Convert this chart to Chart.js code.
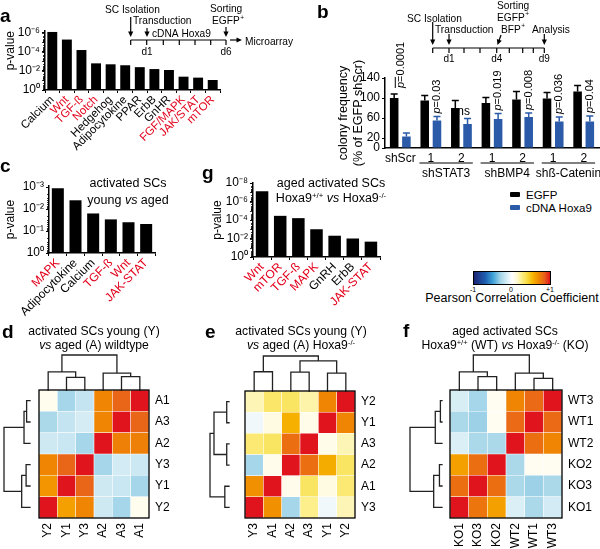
<!DOCTYPE html>
<html>
<head>
<meta charset="utf-8">
<script src="https://cdn.jsdelivr.net/npm/chart.js@4.4.1/dist/chart.umd.min.js"></script>
<style>
  body { margin: 0; width: 600px; height: 549px; position: relative; overflow: hidden; background: #fff;
         font-family: "Liberation Sans", Arial, sans-serif; color: #000 }
  canvas, .t { position: absolute }
  .t { white-space: nowrap; line-height: 1 }
  .lt { font-weight: bold; font-size: 19px }
  .ttl { font-size: 12.2px; line-height: 13.5px; text-align: center; width: 200px; top: 325px }
  .s { font-size: 0.62em; position: relative; top: -0.5em }
  .sq { display: inline-block; width: 10px; height: 5px; border-radius: 1px; margin-right: 6px; vertical-align: 2px }
</style>
</head>
<body>
<canvas id="chartA" width="300" height="160" style="left:0;top:0"></canvas>
<canvas id="chartB" width="300" height="180" style="left:300px;top:0"></canvas>
<canvas id="chartC" width="200" height="170" style="left:0;top:170px"></canvas>
<canvas id="chartG" width="200" height="170" style="left:200px;top:170px"></canvas>
<canvas id="chartD" width="200" height="199" style="left:0;top:350px"></canvas>
<canvas id="chartE" width="200" height="199" style="left:200px;top:350px"></canvas>
<canvas id="chartF" width="200" height="199" style="left:400px;top:350px"></canvas>

<div class="t lt" style="left:0;top:6px">a</div>
<div class="t lt" style="left:317px;top:2px">b</div>
<div class="t lt" style="left:0;top:156px">c</div>
<div class="t lt" style="left:202px;top:163px">g</div>
<div class="t lt" style="left:2px;top:322px">d</div>
<div class="t lt" style="left:205px;top:322px">e</div>
<div class="t lt" style="left:403px;top:321px">f</div>

<div class="t" style="left:48px;top:175px;width:160px;text-align:center;font-size:12.5px;line-height:16.5px">activated SCs<br>young <i>vs</i> aged</div>
<div class="t" style="left:231px;top:176px;width:200px;text-align:center;font-size:12.5px;line-height:15px">aged activated SCs<br>Hoxa9<span class="s">+/+</span> <i>vs</i> Hoxa9<span class="s">-/-</span></div>

<div class="t ttl" style="left:-6px">activated SCs young (Y)<br><i>vs</i> aged (A) wildtype</div>
<div class="t ttl" style="left:201px">activated SCs young (Y)<br><i>vs</i> aged (A) Hoxa9<span class="s">-/-</span></div>
<div class="t ttl" style="left:405px">aged activated SCs<br>Hoxa9<span class="s">+/+</span> (WT) <i>vs</i> Hoxa9<span class="s">-/-</span> (KO)</div>

<div id="legendB" class="t" style="left:510px;top:189px;font-size:11.5px;line-height:13px"></div>

<div id="cbar" class="t" style="left:473px;top:271px;width:76px;height:12px;border:1px solid #000"></div>
<div class="t" style="left:468px;top:286px;width:10px;text-align:center;font-size:7px">-1</div>
<div class="t" style="left:506px;top:286px;width:10px;text-align:center;font-size:7px">0</div>
<div class="t" style="left:545px;top:286px;width:10px;text-align:center;font-size:7px">+1</div>
<div class="t" style="left:412px;top:292px;width:200px;text-align:center;font-size:12.5px">Pearson Correlation Coefficient</div>

<script>
// ---------- data ----------
// a: pathways after Hoxa9 overexpression, bar = -log10(p)
const aPathways = ['Calcium', 'Wnt', 'TGF-ß', 'Notch', 'Hedgehog', 'Adipocytokine', 'PPAR', 'ErbB', 'GnHR', 'FGF/MAPK', 'JAK/STAT', 'mTOR']
const aLogP = [6.1, 5.3, 4.2, 2.8, 2.7, 2.6, 2.4, 2.2, 2.1, 1.4, 1.3, 1.05]
const aRed = ['Wnt', 'TGF-ß', 'Notch', 'FGF/MAPK', 'JAK/STAT', 'mTOR']
const aTicks = [0, 2, 4, 6]

// c: young vs aged activated SCs
const cPathways = ['MAPK', 'Adipocytokine', 'Calcium', 'TGF-ß', 'Wnt', 'JAK-STAT']
const cLogP = [2.95, 2.4, 1.8, 1.53, 1.4, 1.32]
const cRed = ['MAPK', 'TGF-ß', 'Wnt', 'JAK-STAT']
const cTicks = [0, 1, 2, 3]

// g: aged Hoxa9+/+ vs Hoxa9-/-
const gPathways = ['Wnt', 'mTOR', 'TGF-ß', 'MAPK', 'GnRH', 'ErbB', 'JAK-STAT']
const gLogP = [7.1, 4.45, 4.2, 3.0, 2.3, 2.0, 1.66]
const gRed = ['Wnt', 'mTOR', 'TGF-ß', 'MAPK', 'JAK-STAT']
const gTicks = [0, 2, 4, 6, 8]

// b: colony frequency (% of EGFP shScr)
const bGroups = ['shScr', '1', '2', '1', '2', '1', '2']
const bEGFP = [100, 95, 80, 90, 97, 99, 113]
const bEGFPErr = [8, 10, 15, 11, 16, 12, 12]
const bHoxa = [23, 55, 48, 58, 62, 53, 53]
const bHoxaErr = [7, 8, 11, 11, 8, 9, 11]
const bPvals = ['p=0.0001', 'p=0.03', 'ns', 'p=0.019', 'p=0.008', 'p=0.036', 'p=0.04']
const bShGroups = [['shSTAT3', 1, 2], ['shBMP4', 3, 4], ['shß-Catenin', 5, 6]]
const bTicks = [0, 20, 60, 100, 140]

// d: young vs aged wildtype, Pearson r (rows top to bottom)
const dCols = ['Y2', 'Y1', 'Y3', 'A2', 'A3', 'A1']
const dRows = ['A1', 'A3', 'A2', 'Y3', 'Y1', 'Y2']
const dCorr = [
  [0.06, -0.3, -0.2, 0.72, 0.84, 1],
  [-0.28, -0.2, -0.14, 0.72, 1, 0.84],
  [-0.16, -0.18, -0.3, 1, 0.74, 0.74],
  [0.72, 0.84, 1, -0.3, -0.15, -0.17],
  [0.66, 1, 0.84, -0.16, -0.18, -0.3],
  [1, 0.62, 0.72, -0.16, -0.3, 0.06]
]
const dColTree = [[1, 2, 0.36], [0, 6, 0.52], [4, 5, 0.38], [3, 8, 0.48], [7, 9, 1]]
const dRowTree = [[0, 1, 0.13], [2, 6, 0.23], [3, 4, 0.15], [5, 8, 0.32], [7, 9, 1]]

// e: young vs aged Hoxa9-/-
const eCols = ['Y3', 'A1', 'A2', 'A3', 'Y1', 'Y2']
const eRows = ['Y2', 'Y1', 'A3', 'A2', 'A1', 'Y3']
const eCorr = [
  [0.18, 0.32, 0.33, 0.2, 0.72, 1],
  [-0.05, 0.1, 0.56, 0.08, 1, 0.72],
  [0.3, 0.33, 0.8, 1, 0.08, 0.18],
  [-0.3, 0.07, 1, 0.8, 0.58, 0.33],
  [0.68, 1, 0.07, 0.33, 0.1, 0.3],
  [1, 0.68, -0.3, 0.25, -0.05, 0.18]
]
const eColTree = [[0, 1, 0.55], [2, 3, 0.54], [4, 5, 0.51], [7, 8, 0.86], [6, 9, 1]]
const eRowTree = [[0, 1, 0.12], [2, 3, 0.12], [6, 7, 0.79], [4, 5, 0.22], [8, 9, 1]]

// f: aged Hoxa9+/+ (WT) vs Hoxa9-/- (KO)
const fCols = ['KO1', 'KO3', 'KO2', 'WT2', 'WT1', 'WT3']
const fRows = ['WT3', 'WT1', 'WT2', 'KO2', 'KO3', 'KO1']
const fCorr = [
  [-0.13, -0.3, 0.05, 0.72, 0.82, 1],
  [-0.28, -0.32, 0.05, 0.82, 1, 0.82],
  [-0.12, -0.28, -0.28, 1, 0.8, 0.72],
  [0.62, 0.8, 1, -0.28, 0.05, 0.05],
  [0.8, 1, 0.8, -0.28, -0.32, -0.28],
  [1, 0.78, 0.62, -0.12, -0.28, -0.15]
]
const fColTree = [[1, 2, 0.38], [0, 6, 0.52], [4, 5, 0.33], [3, 8, 0.48], [7, 9, 1]]
const fRowTree = [[0, 1, 0.05], [2, 6, 0.21], [3, 4, 0.08], [5, 8, 0.26], [7, 9, 1]]

// ---------- style ----------
const FONT = '"Liberation Sans", Arial, sans-serif'
const RED = '#e3001b'
const BLUE = '#2a5aa8'
const cmapStops = [[-1, '#1c2472'], [-0.7, '#1f5fb0'], [-0.5, '#3fa2d8'], [-0.3, '#a6d6e9'], [-0.12, '#dbeff6'], [0, '#ffffff'],
  [0.1, '#fffbe3'], [0.25, '#fcef8c'], [0.4, '#f9dc40'], [0.55, '#f6b400'], [0.7, '#f08a00'], [0.85, '#e8621a'], [1, '#e0141c']]

Chart.defaults.font.family = FONT
Chart.defaults.color = '#000'
Chart.defaults.animation = false
Chart.defaults.responsive = false
Chart.defaults.plugins.legend.display = false
Chart.defaults.plugins.tooltip.enabled = false

const hex = h => [1, 3, 5].map(i => parseInt(h.slice(i, i + 2), 16))
function corrColor(v) {
  for (let i = 1; i < cmapStops.length; i++) {
    const [v0, c0] = cmapStops[i - 1], [v1, c1] = cmapStops[i]
    if (v <= v1) {
      const t = (v - v0) / (v1 - v0), a = hex(c0), b = hex(c1)
      return 'rgb(' + a.map((x, k) => Math.round(x + (b[k] - x) * t)).join(',') + ')'
    }
  }
  return cmapStops[cmapStops.length - 1][1]
}

const SUP = { '0': '⁰', '1': '¹', '2': '²', '3': '³', '4': '⁴', '5': '⁵', '6': '⁶', '7': '⁷', '8': '⁸', '9': '⁹', '-': '⁻' }
const pLabel = v => '10' + String(v === 0 ? 0 : -v).split('').map(c => SUP[c]).join('')

// minor ticks of the (reversed) log p axis
const logMinorTicks = {
  id: 'logMinorTicks',
  afterDraw(chart) {
    const { ctx, chartArea, scales: { y } } = chart
    const x0 = chartArea.left
    ctx.save()
    ctx.strokeStyle = '#000'
    ctx.lineWidth = 0.8
    ctx.beginPath()
    for (let d = 0; d < Math.floor(y.max); d++) {
      for (let k = 1; k <= 9; k++) {
        const py = Math.round(y.getPixelForValue(d + 1 - Math.log10(k))) + 0.5
        const len = k === 1 ? 3 : 2
        ctx.moveTo(x0 - len, py)
        ctx.lineTo(x0, py)
      }
    }
    ctx.stroke()
    ctx.restore()
  }
}

function pathwayChart(id, labels, logP, red, ticks, top, geo) {
  return new Chart(document.getElementById(id), {
    type: 'bar',
    data: { labels, datasets: [{ data: logP, backgroundColor: '#000', barPercentage: geo.bar, categoryPercentage: 1 }] },
    options: {
      layout: { padding: { left: geo.padL, top: geo.padT, right: geo.padR, bottom: 0 } },
      scales: {
        x: {
          grid: { offset: true, drawOnChartArea: false, tickLength: 3, color: '#000', lineWidth: 1 },
          border: { color: '#000', width: 1.5 },
          ticks: {
            minRotation: 45, maxRotation: 45, autoSkip: false, padding: 0, font: { size: geo.labelSize },
            color: c => red.includes(labels[c.index]) ? RED : '#000'
          },
          afterFit: s => { s.height = geo.xh }
        },
        y: {
          min: 0, max: top,
          grid: { drawOnChartArea: false, tickLength: 3, color: '#000' },
          border: { color: '#000', width: 1.5 },
          ticks: { font: { size: 12 }, padding: 2, callback: v => pLabel(v) },
          afterBuildTicks: s => { s.ticks = ticks.map(value => ({ value })) },
          afterFit: s => { s.width = geo.yw },
          title: { display: true, text: 'p-value', font: { size: 12 }, padding: 0, align: geo.titleAlign }
        }
      }
    },
    plugins: [logMinorTicks].concat(geo.extra || [])
  })
}

// ---------- timelines (annotations) ----------
function arrow(ctx, x1, y1, x2, y2) {
  const a = Math.atan2(y2 - y1, x2 - x1)
  ctx.beginPath()
  ctx.moveTo(x1, y1)
  ctx.lineTo(x2 - 4 * Math.cos(a), y2 - 4 * Math.sin(a))
  ctx.stroke()
  ctx.beginPath()
  ctx.moveTo(x2, y2)
  ctx.lineTo(x2 - 5.5 * Math.cos(a) + 2.6 * Math.sin(a), y2 - 5.5 * Math.sin(a) - 2.6 * Math.cos(a))
  ctx.lineTo(x2 - 5.5 * Math.cos(a) - 2.6 * Math.sin(a), y2 - 5.5 * Math.sin(a) + 2.6 * Math.cos(a))
  ctx.closePath()
  ctx.fill()
}
function drawTimeline(ctx, spec) {
  ctx.save()
  ctx.fillStyle = '#000'
  ctx.strokeStyle = '#000'
  ctx.lineWidth = 1.2
  ctx.textBaseline = 'alphabetic'
  spec.texts.forEach(([s, x, y, sup]) => {
    ctx.font = `10.2px ${FONT}`
    ctx.textAlign = 'left'
    ctx.fillText(s, x, y)
    if (sup) {
      const w = ctx.measureText(s).width
      ctx.font = `6.5px ${FONT}`
      ctx.fillText(sup, x + w + 0.5, y - 4.5)
    }
  })
  spec.arrows.forEach(a => arrow(ctx, ...a))
  const [lx1, lx2, ly] = spec.line
  ctx.beginPath()
  ctx.moveTo(lx1, ly)
  ctx.lineTo(lx2, ly)
  spec.ticks.forEach(x => { ctx.moveTo(x, ly); ctx.lineTo(x, ly + 5) })
  ctx.stroke()
  ctx.font = `10px ${FONT}`
  ctx.textAlign = 'center'
  spec.days.forEach(([s, x]) => ctx.fillText(s, x, spec.dayY))
  ctx.restore()
}

const timelineA = {
  id: 'timelineA',
  afterDraw(chart) {
    drawTimeline(chart.ctx, {
      texts: [['SC Isolation', 105, 12.5], ['Transduction', 133, 24], ['cDNA Hoxa9', 152, 36.5], ['Sorting', 210, 11.5], ['EGFP', 212, 24, '+'], ['Microarray', 245, 44.5]],
      arrows: [[130.7, 17, 130.7, 37], [147, 28, 147, 37], [226, 27, 226, 37], [230, 40, 242, 40]],
      line: [130.7, 226, 40],
      ticks: [130.7, 146.7, 163.3, 179.3, 195, 210.7, 226],
      days: [['d1', 147], ['d6', 226]],
      dayY: 55
    })
  }
}

const timelineB = {
  id: 'timelineB',
  afterDraw(chart) {
    drawTimeline(chart.ctx, {
      texts: [['SC Isolation', 107, 21.5], ['Transduction', 135, 32.5], ['Sorting', 197, 9], ['EGFP', 197, 20.5, '+'], ['BFP', 201, 32.5, '+'], ['Analysis', 232, 32.5]],
      arrows: [[132.7, 22, 132.7, 45], [149, 34, 149, 45], [201, 35, 197.5, 45], [244.3, 34, 244.3, 45]],
      line: [132.7, 244.3, 48],
      ticks: [132.7, 149, 164, 180, 196.7, 209.3, 222.7, 233.3, 244.3],
      days: [['d1', 149], ['d4', 196.7], ['d9', 244.3]],
      dayY: 62
    })
  }
}

// ---------- panel a, c, g ----------
pathwayChart('chartA', aPathways, aLogP, aRed, aTicks, 6.2,
  { bar: 0.68, padL: 3, padT: 31, padR: 80, yw: 42, xh: 70, labelSize: 11.5, titleAlign: 'end', extra: [timelineA] })
pathwayChart('chartC', cPathways, cLogP, cRed, cTicks, 3.05,
  { bar: 0.68, padL: 3, padT: 16, padR: 45, yw: 46, xh: 87, labelSize: 12, titleAlign: 'center' })
pathwayChart('chartG', gPathways, gLogP, gRed, gTicks, 8,
  { bar: 0.69, padL: 10, padT: 13, padR: 20, yw: 43, xh: 83, labelSize: 12, titleAlign: 'center' })

// ---------- panel b ----------
function vText(ctx, x, y, s) {
  ctx.save()
  ctx.translate(x, y)
  ctx.rotate(-Math.PI / 2)
  ctx.textAlign = 'left'
  ctx.textBaseline = 'middle'
  ctx.font = `italic 11px ${FONT}`
  ctx.fillText(s[0], 0, 0)
  const w = ctx.measureText(s[0]).width
  ctx.font = `11px ${FONT}`
  ctx.fillText(s.slice(1), w, 0)
  ctx.restore()
}

const bAnnot = {
  id: 'bAnnot',
  afterDatasetsDraw(chart) {
    const { ctx, scales: { y } } = chart
    const egfp = chart.getDatasetMeta(0).data, hoxa = chart.getDatasetMeta(1).data
    const sets = [[egfp, bEGFP, bEGFPErr, '#000'], [hoxa, bHoxa, bHoxaErr, BLUE]]
    ctx.save()
    ctx.lineWidth = 1.5
    sets.forEach(([bars, v, e, col]) => {
      ctx.strokeStyle = col
      ctx.beginPath()
      bars.forEach((b, i) => {
        const t = y.getPixelForValue(v[i] + e[i])
        ctx.moveTo(b.x, b.y)
        ctx.lineTo(b.x, t)
        ctx.moveTo(b.x - 3.5, t)
        ctx.lineTo(b.x + 3.5, t)
      })
      ctx.stroke()
    })
    ctx.restore()
  },
  afterDraw(chart) {
    const { ctx, scales: { y } } = chart
    const egfp = chart.getDatasetMeta(0).data, hoxa = chart.getDatasetMeta(1).data
    ctx.save()
    ctx.fillStyle = '#000'
    ctx.strokeStyle = '#000'
    ctx.lineWidth = 1
    bPvals.forEach((p, i) => {
      const topH = y.getPixelForValue(bHoxa[i] + bHoxaErr[i])
      if (p === 'ns') {
        ctx.font = `12px ${FONT}`
        ctx.textAlign = 'center'
        ctx.textBaseline = 'alphabetic'
        ctx.fillText(p, hoxa[i].x - 4, topH - 4)
      } else if (i === 0) {
        const topE = y.getPixelForValue(bEGFP[i] + bEGFPErr[i])
        const cx = (egfp[i].x + hoxa[i].x) / 2 + 1
        vText(ctx, cx, topE - 6, p)
        ctx.beginPath()
        ctx.moveTo(cx - 6, topE - 6)
        ctx.lineTo(cx - 6, topE - 17)
        ctx.stroke()
      } else {
        vText(ctx, hoxa[i].x, topH - 3, p)
      }
    })
    // shRNA group underlines and names
    ctx.font = `12px ${FONT}`
    ctx.textAlign = 'center'
    ctx.textBaseline = 'alphabetic'
    bShGroups.forEach(([name, g0, g1]) => {
      const l = egfp[g0].x - egfp[g0].width / 2 - 1, r = hoxa[g1].x + hoxa[g1].width / 2 + 1
      ctx.beginPath()
      ctx.moveTo(l, 163)
      ctx.lineTo(r, 163)
      ctx.stroke()
      ctx.fillText(name, (l + r) / 2, 176.5)
    })
    ctx.restore()
  }
}

const chartB = new Chart(document.getElementById('chartB'), {
  type: 'bar',
  data: {
    labels: bGroups,
    datasets: [
      { label: 'EGFP', data: bEGFP, backgroundColor: '#000', barPercentage: 0.7, categoryPercentage: 0.8 },
      { label: 'cDNA Hoxa9', data: bHoxa, backgroundColor: BLUE, barPercentage: 0.7, categoryPercentage: 0.8 }
    ]
  },
  options: {
    layout: { padding: { left: 36, top: 78, right: 1, bottom: 0 } },
    scales: {
      x: {
        grid: { display: false, drawTicks: false },
        border: { color: '#000', width: 1.5 },
        ticks: { font: { size: 12 }, padding: 3, autoSkip: false, maxRotation: 0 },
        afterFit: s => { s.height = 32 }
      },
      y: {
        min: 0, max: 140,
        grid: { drawOnChartArea: false, tickLength: 3, color: '#000' },
        border: { color: '#000', width: 1.5 },
        ticks: { font: { size: 12 }, padding: 2 },
        afterBuildTicks: s => { s.ticks = bTicks.map(value => ({ value })) },
        afterFit: s => { s.width = 49 },
        title: { display: true, text: ['colony frequency', '(% of EGFP shScr)'], font: { size: 12.5 }, padding: 0 }
      }
    }
  },
  plugins: [bAnnot, timelineB]
})

// legend of panel b from the chart's datasets
document.getElementById('legendB').innerHTML = chartB.data.datasets
  .map(d => `<div><span class="sq" style="background:${d.backgroundColor}"></span>${d.label}</div>`).join('')

// ---------- heatmaps d, e, f ----------
function drawTree(ctx, tree, leafPos, pt) {
  const nodes = []
  for (let i = 0; i <= tree.length; i++) nodes.push({ pos: leafPos(i), h: 0 })
  ctx.beginPath()
  tree.forEach(([a, b, h]) => {
    const A = nodes[a], B = nodes[b]
    const seg = (p0, h0, p1, h1) => {
      const s = pt(p0, h0), e = pt(p1, h1)
      ctx.moveTo(s[0], s[1])
      ctx.lineTo(e[0], e[1])
    }
    seg(A.pos, A.h, A.pos, h)
    seg(B.pos, B.h, B.pos, h)
    seg(A.pos, h, B.pos, h)
    nodes.push({ pos: (A.pos + B.pos) / 2, h })
  })
  ctx.stroke()
}

function dendroPlugin(colTree, rowTree, geo) {
  return {
    id: 'dendro',
    afterDraw(chart) {
      const { ctx, chartArea: a, scales } = chart
      ctx.save()
      ctx.lineCap = 'square'
      ctx.strokeStyle = '#222'
      ctx.lineWidth = 1.3
      drawTree(ctx, colTree, i => scales.x.getPixelForValue(i), (p, h) => [p, a.top - h * geo.topH])
      drawTree(ctx, rowTree, i => scales.rowAxis.getPixelForValue(i), (p, h) => [a.left - geo.gapL - h * geo.leftW, p])
      ctx.strokeStyle = '#000'
      ctx.lineWidth = 1.3
      ctx.strokeRect(a.left, a.top, a.width, a.height)
      ctx.restore()
    }
  }
}

function heatmap(id, cols, rows, corr, colTree, rowTree, geo) {
  const datasets = rows.map((r, i) => ({
    label: r,
    data: cols.map(() => 1),
    backgroundColor: corr[i].map(corrColor),
    borderColor: 'rgba(255,255,255,0.5)',
    borderWidth: 0.6,
    borderSkipped: false,
    barPercentage: 1,
    categoryPercentage: 1
  })).reverse()
  return new Chart(document.getElementById(id), {
    type: 'bar',
    data: { labels: cols, datasets },
    options: {
      layout: { padding: { left: geo.padL, top: geo.padT, right: 0, bottom: 0 } },
      scales: {
        x: {
          stacked: true,
          grid: { display: false, drawTicks: false },
          border: { display: false },
          ticks: { minRotation: 90, maxRotation: 90, autoSkip: false, padding: 5, font: { size: 12 } },
          afterFit: s => { s.height = 31 }
        },
        y: { stacked: true, min: 0, max: rows.length, display: false },
        rowAxis: {
          type: 'category', labels: rows, position: 'right', offset: true,
          grid: { display: false, drawTicks: false },
          border: { display: false },
          ticks: { autoSkip: false, padding: 6, font: { size: 12 } },
          afterFit: s => { s.width = geo.yw }
        }
      }
    },
    plugins: [dendroPlugin(colTree, rowTree, geo)]
  })
}

heatmap('chartD', dCols, dRows, dCorr, dColTree, dRowTree, { padL: 39, padT: 40, yw: 51, topH: 35, gapL: 9, leftW: 26 })
heatmap('chartE', eCols, eRows, eCorr, eColTree, eRowTree, { padL: 45, padT: 41, yw: 45, topH: 35, gapL: 16, leftW: 19 })
heatmap('chartF', fCols, fRows, fCorr, fColTree, fRowTree, { padL: 50, padT: 40, yw: 38, topH: 35, gapL: 8, leftW: 32 })

// colour bar
document.getElementById('cbar').style.background = 'linear-gradient(to right,' +
  cmapStops.map(([v, c]) => `${c} ${((v + 1) / 2 * 100).toFixed(1)}%`).join(',') + ')'
</script>
</body>
</html>
